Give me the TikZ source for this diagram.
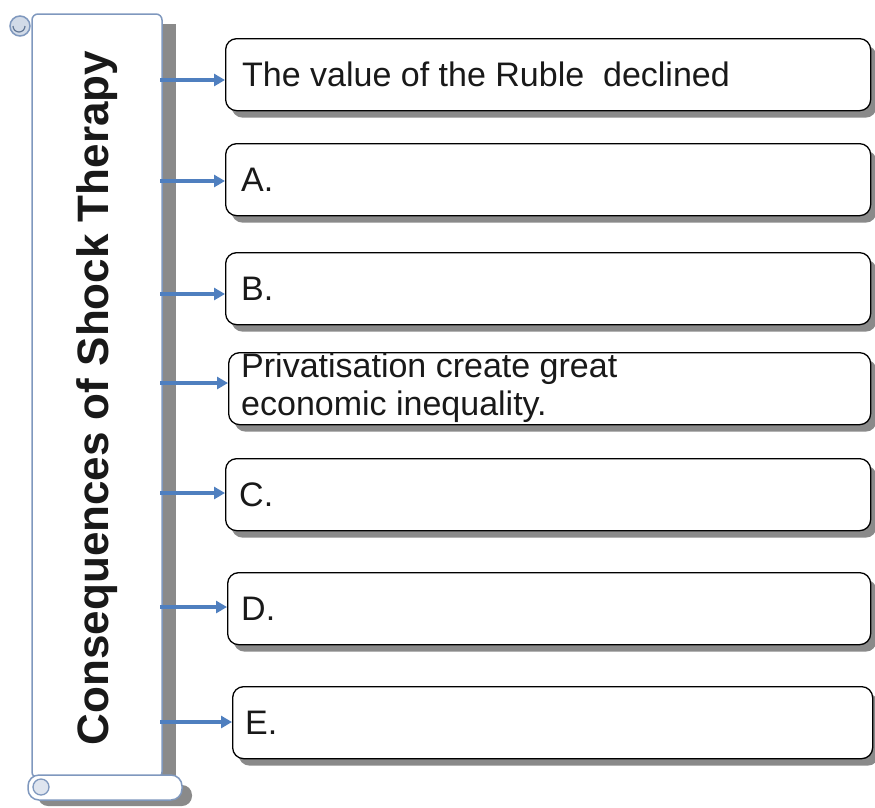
\documentclass[tikz,border=0pt]{standalone}
\usepackage{fontspec}
\setmainfont{Liberation Sans}
\usetikzlibrary{arrows.meta,shadows}
\definecolor{scrollc}{HTML}{7F98BE}
\definecolor{arrowc}{HTML}{4F7FBF}
\definecolor{shadowc}{HTML}{8A8A8A}
\tikzset{
  conbox/.style={draw=black, line width=1.3pt, fill=white, rounded corners=11pt,
    minimum width=645pt, minimum height=72pt, anchor=north west, inner sep=0pt,
    drop shadow={shadow xshift=6pt, shadow yshift=-7pt, fill=shadowc, opacity=1}},
  boxtext/.style={font=\fontsize{34}{36}\selectfont, anchor=west, align=left, inner sep=0pt, text=black!90},
  conarrow/.style={draw=arrowc, line width=4.5pt, -{Triangle[length=11pt,width=12pt]}},
}
\begin{document}
\begin{tikzpicture}[x=1pt,y=-1pt]
\useasboundingbox (0,0) rectangle (875,807);
% scroll shadow
\fill[shadowc] (40,24) rectangle (176,790);
\fill[shadowc, rounded corners=10pt] (38,785) rectangle (192,806);
% scroll body
\node[draw=scrollc, line width=1.5pt, fill=white, minimum width=130pt, minimum height=764pt, inner sep=0pt,
  rounded corners=6pt] (scroll) at (97,396) {};
% top curl
\draw[scrollc, line width=1.5pt, fill=scrollc!35] (20,26) circle (10pt);
\draw[scrollc!80!black, line width=1.2pt] (13,26) arc (180:360:6pt);
% bottom roll
\draw[scrollc, line width=1.5pt, fill=white, rounded corners=11pt] (28,775) rectangle (182,800);
\draw[scrollc, line width=1.3pt, fill=scrollc!25] (41,787) circle (8pt);
\node[rotate=90, font=\bfseries\fontsize{44}{46}\selectfont, text=black!90] (title) at (97,398) {Consequences of Shock Therapy};
% boxes
\node[conbox] (b1) at (225,38) {};
\node[conbox] (b2) at (225,143) {};
\node[conbox] (b3) at (225,252) {};
\node[conbox, minimum width=642pt] (b4) at (228,352) {};
\node[conbox] (b5) at (225,458) {};
\node[conbox, minimum width=643pt] (b6) at (227,572) {};
\node[conbox, minimum width=640pt] (b7) at (232,686) {};
\node[boxtext] (t1) at ([xshift=17pt]b1.west) {The value of the Ruble\ \ declined};
\node[boxtext] (t2) at ([xshift=16pt]b2.west) {A.};
\node[boxtext] (t3) at ([xshift=16pt]b3.west) {B.};
\node[boxtext, anchor=north west, font=\fontsize{34}{38}\selectfont] (t4) at ([xshift=13pt,yshift=-1pt]b4.north west) {Privatisation create great\\economic inequality.};
\node[boxtext] (t5) at ([xshift=14pt]b5.west) {C.};
\node[boxtext] (t6) at ([xshift=14pt]b6.west) {D.};
\node[boxtext] (t7) at ([xshift=13pt]b7.west) {E.};
% arrows
\foreach \b/\yy in {b1/80,b2/181,b3/294,b4/383,b5/493,b6/607,b7/722}{
  \coordinate (s\b) at (160,\yy);
  \draw[conarrow] (s\b) -- (s\b -| \b.west);
}
\end{tikzpicture}
\end{document}
